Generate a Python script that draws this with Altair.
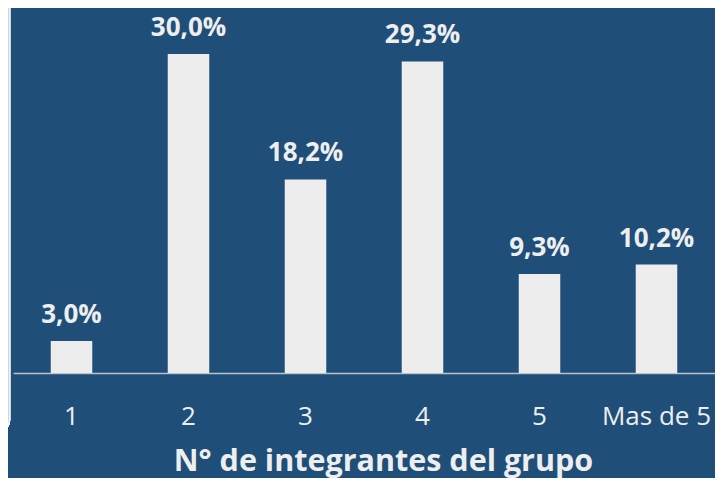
import altair as alt
import pandas as pd

categories = ["1", "2", "3", "4", "5", "Mas de 5"]
values = [3.0, 30.0, 18.2, 29.3, 9.3, 10.2]
labels = ["3,0%", "30,0%", "18,2%", "29,3%", "9,3%", "10,2%"]

df = pd.DataFrame({"cat": categories, "val": values, "lab": labels})

BG = "#1f4e79"
BAR = "#ededed"
TXT = "#eeeeee"
FONT = "Open Sans"

x_enc = alt.X(
    "cat:N",
    sort=categories,
    scale=alt.Scale(paddingInner=0.645, paddingOuter=0.3225),
    axis=alt.Axis(
        title="N° de integrantes del grupo",
        labelAngle=0,
        labelFont=FONT,
        labelFontSize=26,
        labelColor=TXT,
        labelBaseline="alphabetic",
        labelPadding=51,
        ticks=False,
        domainColor="#b7c2cc",
        domainWidth=1.5,
        grid=False,
        titleFont=FONT,
        titleFontSize=30.5,
        titleFontWeight="bold",
        titleColor=TXT,
        titleBaseline="alphabetic",
        titleAlign="center",
        titleX=370,
        titleY=97,
    ),
)
y_enc = alt.Y("val:Q", scale=alt.Scale(domain=[0, 30]), axis=None)

bars = alt.Chart(df).mark_bar(color=BAR).encode(x=x_enc, y=y_enc)
text = alt.Chart(df).mark_text(
    font=FONT, fontSize=26, fontWeight="bold", color=TXT,
    baseline="alphabetic", dy=-18
).encode(x=alt.X("cat:N", sort=categories), y="val:Q", text="lab:N")

frame = alt.Chart(df).mark_rect(
    filled=False, stroke="#f2f2f2", strokeWidth=1.5, cornerRadius=12, clip=False
).encode(
    x=alt.value(-40), x2=alt.value(-3.5), y=alt.value(-80), y2=alt.value(378)
)

chart = alt.layer(frame, bars, text).properties(
    width=702, height=319,
    background=BG,
    padding={"left": 5, "top": 46, "right": 0, "bottom": 105},
    autosize=alt.AutoSizeParams(type="none"),
).configure_view(stroke=None)

chart.save("out.html", embed_options={"renderer": "svg", "actions": False})
